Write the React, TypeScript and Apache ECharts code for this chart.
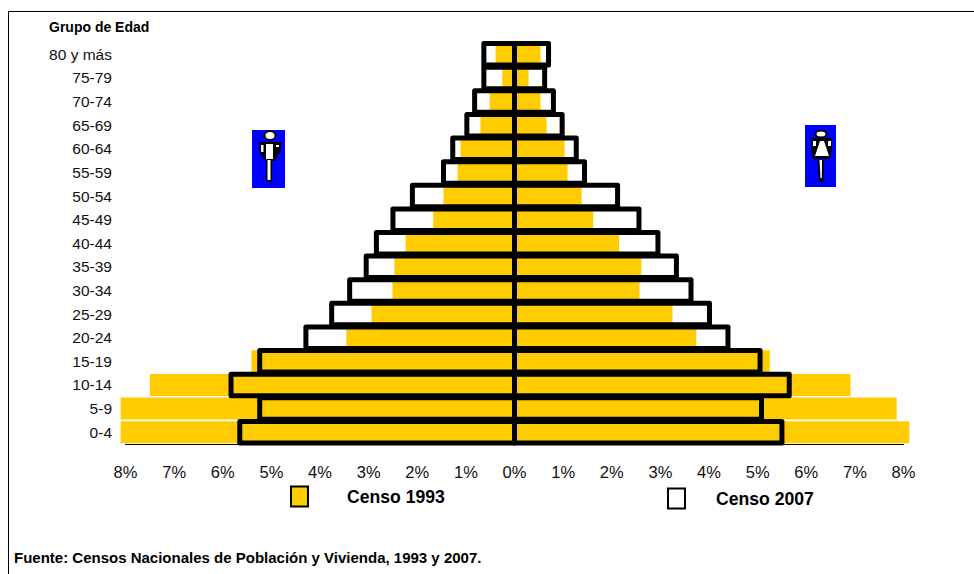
import React, { useEffect, useRef } from "react";
import * as echarts from "echarts";

const ageGroups = ["0-4","5-9","10-14","15-19","20-24","25-29","30-34","35-39","40-44","45-49","50-54","55-59","60-64","65-69","70-74","75-79","80 y más"];
const men1993 = [8.1,8.1,7.5,5.41,3.46,2.94,2.51,2.47,2.24,1.67,1.46,1.17,1.11,0.70,0.51,0.25,0.39];
const women1993 = [8.12,7.86,6.91,5.25,3.74,3.25,2.57,2.61,2.15,1.62,1.38,1.09,1.03,0.66,0.535,0.29,0.535];
const men2007 = [5.65,5.24,5.83,5.24,4.29,3.76,3.39,3.05,2.84,2.50,2.10,1.46,1.27,0.98,0.82,0.63,0.63];
const women2007 = [5.50,5.08,5.65,5.05,4.39,4.01,3.63,3.33,2.95,2.56,2.12,1.44,1.27,0.98,0.80,0.62,0.70];
const legend1993 = "Censo 1993";
const legend2007 = "Censo 2007";
const axisTitle = "Grupo de Edad";
const sourceNote = "Fuente: Censos Nacionales de Población y Vivienda, 1993 y 2007.";

const FONT = "'Liberation Sans', Arial, sans-serif";
const neg = (a: number[]) => a.map((v) => -v);

function iconMan() {
  return [
    { type: "rect", shape: { x: 252, y: 130, width: 33, height: 58 }, style: { fill: "#0000FF" } },
    { type: "polygon", shape: { points: [[259,142],[281,142],[281,150],[275,161],[265,161],[259,151]] }, style: { fill: "#000" } },
    { type: "ellipse", shape: { cx: 270, cy: 135.5, rx: 5.5, ry: 4.5 }, style: { fill: "#fff", stroke: "#000", lineWidth: 2 } },
    { type: "rect", shape: { x: 266, y: 144, width: 7, height: 15 }, style: { fill: "#fff" } },
    { type: "rect", shape: { x: 261, y: 145, width: 2.5, height: 7 }, style: { fill: "#fff" } },
    { type: "rect", shape: { x: 276, y: 145, width: 3, height: 2 }, style: { fill: "#fff" } },
    { type: "rect", shape: { x: 266, y: 160, width: 6, height: 22 }, style: { fill: "#000" } },
    { type: "rect", shape: { x: 267.5, y: 160, width: 3, height: 20 }, style: { fill: "#fff" } },
  ];
}
function iconWoman() {
  return [
    { type: "rect", shape: { x: 805, y: 125, width: 31, height: 62 }, style: { fill: "#0000FF" } },
    { type: "polygon", shape: { points: [[811,138],[832,138],[832,148],[830,159],[813,159],[811,148]] }, style: { fill: "#000" } },
    { type: "ellipse", shape: { cx: 821, cy: 134, rx: 5.5, ry: 3.5 }, style: { fill: "#fff", stroke: "#000", lineWidth: 2 } },
    { type: "polygon", shape: { points: [[820,141],[824,141],[829,156],[815,156]] }, style: { fill: "#fff" } },
    { type: "rect", shape: { x: 813, y: 141, width: 3, height: 5 }, style: { fill: "#fff" } },
    { type: "rect", shape: { x: 828, y: 141, width: 3, height: 5 }, style: { fill: "#fff" } },
    { type: "polygon", shape: { points: [[817.5,160],[824,160],[823.5,182],[819,182],[818,172]] }, style: { fill: "#000" } },
    { type: "polygon", shape: { points: [[819.5,160],[822,160],[821.8,178],[820.5,178]] }, style: { fill: "#fff" } },
  ];
}

// Outline bars whose stroke is centred on the bar's true edges, drawn from 0 through the axis scales.
function outlineItem(_params: any, api: any) {
  const value = api.value(0);
  const index = api.value(1);
  const zero = api.coord([0, index]);
  const end = api.coord([value, index]);
  const h = 21.5;
  const x = Math.min(zero[0], end[0]);
  return {
    type: "rect",
    shape: { x, y: zero[1] - h / 2 , width: Math.abs(end[0] - zero[0]), height: h },
    style: { fill: "none", stroke: "#000", lineWidth: 5, lineJoin: "round" },
    silent: true,
  };
}
const toPairs = (a: number[]) => a.map((v, i) => [v, i]);

export default function App() {
  const ref = useRef<HTMLDivElement>(null);
  useEffect(() => {
    const chart = echarts.init(ref.current!, undefined, { renderer: "svg" });
    const fill = { color: "#FFCC00" };
    const barBase = { type: "bar", barWidth: 22, barGap: "-100%", clip: false, silent: true };
    const outlineBase = {
      type: "custom", renderItem: outlineItem, clip: false, silent: true, z: 3,
      encode: { x: 0, y: 1 },
    };
    const legendBase = {
      orient: "horizontal", padding: 0, itemWidth: 17, itemHeight: 20, selectedMode: false,
    };
    const legendText = { fontFamily: FONT, fontWeight: "bold", fontSize: 17.6, color: "#000" };
    chart.setOption({
      animation: false,
      backgroundColor: "#fff",
      grid: { left: 125.5, width: 778, top: 42.5, height: 401.5 },
      xAxis: {
        type: "value", min: -8, max: 8, interval: 1,
        splitLine: { show: false }, axisTick: { show: false },
        axisLine: { show: true, onZero: false, lineStyle: { color: "#000", width: 1 } },
        axisLabel: { margin: 19, fontFamily: FONT, fontSize: 16.5, color: "#111", formatter: (v: number) => Math.abs(v) + "%" },
      },
      yAxis: {
        type: "category", data: ageGroups, position: "left",
        axisLine: { show: false, onZero: false }, axisTick: { show: false },
        axisLabel: { margin: 13.5, fontFamily: FONT, fontSize: 15.5, color: "#111", interval: 0, padding: [0, 0, 1, 0] },
      },
      legend: [
        { ...legendBase, left: 290, top: 485.5, textStyle: { ...legendText, padding: [0, 0, 2, 34] },
          data: [{ name: legend1993, icon: "rect", itemStyle: { color: "#FFCC00", borderColor: "#000", borderWidth: 2 } }] },
        { ...legendBase, left: 667, top: 487.5, textStyle: { ...legendText, padding: [0, 0, 6, 26] },
          data: [{ name: legend2007, icon: "rect", itemStyle: { color: "#fff", borderColor: "#000", borderWidth: 2 } }] },
      ],
      series: [
        { ...barBase, name: legend1993, data: neg(men1993), itemStyle: fill },
        { ...barBase, name: legend1993, data: women1993, itemStyle: fill },
        { ...outlineBase, name: legend2007, data: toPairs(neg(men2007)) },
        { ...outlineBase, name: legend2007, data: toPairs(women2007) },
      ],
      graphic: [
        { type: "polyline", shape: { points: [[974, 11.5], [8.5, 11.5], [8.5, 574]] }, style: { stroke: "#000", lineWidth: 1, fill: "none" } },
        { type: "text", x: 49, y: 19.5, style: { text: axisTitle, font: `bold 14px ${FONT}`, fill: "#000" } },
        { type: "text", x: 14, y: 550, style: { text: sourceNote, font: `bold 15px ${FONT}`, fill: "#000" } },
        ...iconMan(),
        ...iconWoman(),
      ],
    });
    return () => chart.dispose();
  }, []);
  return <div ref={ref} style={{ position: "absolute", left: 0, top: 0, width: 974, height: 574 }} />;
}
